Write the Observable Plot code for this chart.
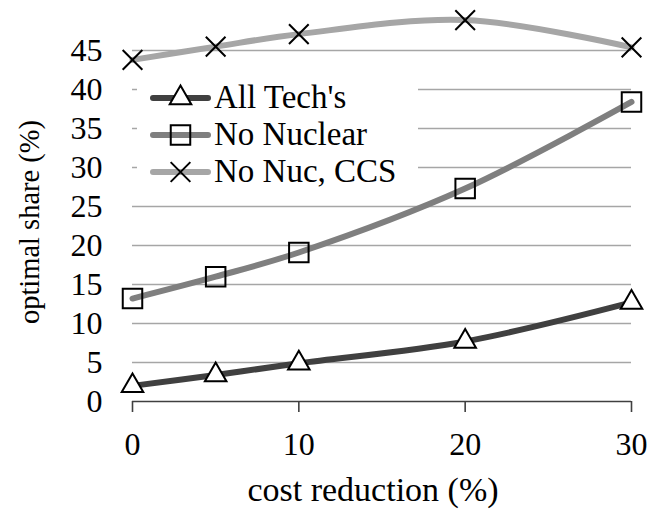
<!DOCTYPE html>
<html>
<head>
<meta charset="utf-8">
<script src="https://cdn.jsdelivr.net/npm/d3@7"></script>
<script src="https://cdn.jsdelivr.net/npm/@observablehq/plot@0.6"></script>
<style>
  html, body { margin: 0; padding: 0; background: #fff; }
  #wrap { position: relative; width: 651px; height: 510px; }
  #wrap svg text { font-family: 'Liberation Serif', 'Times New Roman', serif; }
  #legend { position: absolute; left: 0; top: 0; pointer-events: none; }
</style>
</head>
<body>
<div id="wrap"></div>
<script>
const reduction = [0, 5, 10, 20, 30];
const allTechs = [2.0, 3.4, 4.9, 7.7, 12.7];
const noNuclear = [13.2, 16.0, 19.1, 27.3, 38.4];
const noNucCCS = [43.8, 45.5, 47.1, 48.9, 45.4];
const seriesNames = ["All Tech's", "No Nuclear", "No Nuc, CCS"];
const seriesColors = ["#404040", "#7f7f7f", "#a6a6a6"];
const seriesSymbols = ["triangle", "square", "times"];
const xTicks = [0, 10, 20, 30];
const yTicks = [0, 5, 10, 15, 20, 25, 30, 35, 40, 45];
const xTitle = "cost reduction (%)";
const yTitle = "optimal share (%)";

const seriesValues = [allTechs, noNuclear, noNucCCS];
const rows = [];
seriesNames.forEach((name, i) => {
  reduction.forEach((x, j) => rows.push({series: name, x, y: seriesValues[i][j]}));
});

const font = "'Liberation Serif', 'Times New Roman', serif";

const chart = Plot.plot({
  width: 651,
  height: 510,
  marginLeft: 132,
  marginRight: 20,
  marginTop: 50,
  marginBottom: 109,
  style: {fontFamily: font, fontSize: "32px", color: "#000", background: "#fff", overflow: "visible"},
  x: {domain: [0, 30], ticks: xTicks},
  y: {domain: [0, 45], ticks: yTicks},
  marks: [
    Plot.ruleY(yTicks.filter(d => d > 0), {stroke: "#a6a6a6", strokeWidth: 1.6}),
    Plot.ruleY([0], {stroke: "#404040", strokeWidth: 1.6}),
    Plot.axisX({ticks: xTicks, tickSize: 11, tickPadding: 20, stroke: "#404040", strokeWidth: 1.6, label: null, fill: "#000", fontFamily: font, fontSize: 32}),
    Plot.axisY({ticks: yTicks, tickSize: 0, tickPadding: 30, label: null, fill: "#000", fontFamily: font, fontSize: 32}),
    Plot.text([xTitle], {text: d => d, frameAnchor: "bottom", lineAnchor: "middle", textAnchor: "middle", dy: 89, dx: -9, fontSize: 34, fontFamily: font, fill: "#000"}),
    Plot.text([yTitle], {text: d => d, frameAnchor: "left", lineAnchor: "middle", textAnchor: "middle", rotate: -90, dx: -103, dy: -4, fontSize: 28.5, fontFamily: font, fill: "#000"}),
    ...seriesNames.map((name, i) =>
      Plot.line(rows.filter(r => r.series === name), {x: "x", y: "y", stroke: seriesColors[i], strokeWidth: 6, curve: "catmull-rom", clip: false})
    ),
    Plot.dot(rows.filter(r => r.series === seriesNames[0]), {x: "x", y: "y", symbol: "triangle", r: 8, fill: "#fff", stroke: "#000", strokeWidth: 2}),
    Plot.dot(rows.filter(r => r.series === seriesNames[1]), {x: "x", y: "y", symbol: "square", r: 11, fill: "none", stroke: "#000", strokeWidth: 2}),
    Plot.dot(rows.filter(r => r.series === seriesNames[2]), {x: "x", y: "y", symbol: "times", r: 9, fill: "none", stroke: "#000", strokeWidth: 2})
  ]
});
document.getElementById("wrap").appendChild(chart);

// Legend overlay
const lg = d3.select("#wrap").append("svg").attr("id", "legend")
  .attr("width", 651).attr("height", 510);
lg.append("rect").attr("x", 137).attr("y", 74).attr("width", 281).attr("height", 118).attr("fill", "#fff");
const rowY = [98, 135, 172];
const symMap = {triangle: d3.symbolTriangle, square: d3.symbolSquare, times: d3.symbolTimes};
const symR = {triangle: 8, square: 11, times: 9};
seriesNames.forEach((name, i) => {
  const g = lg.append("g").attr("transform", `translate(0,${rowY[i]})`);
  g.append("line").attr("x1", 153).attr("x2", 208).attr("y1", 0).attr("y2", 0)
    .attr("stroke", seriesColors[i]).attr("stroke-width", 6).attr("stroke-linecap", "round");
  const s = seriesSymbols[i];
  g.append("path").attr("transform", "translate(180.5,0)")
    .attr("d", d3.symbol(symMap[s], Math.PI * symR[s] * symR[s])())
    .attr("fill", s === "triangle" ? "#fff" : "none")
    .attr("stroke", "#000").attr("stroke-width", 2);
  g.append("text").attr("x", 214).attr("y", 10).attr("font-family", font)
    .attr("font-size", 33).attr("fill", "#000").text(name);
});
</script>
</body>
</html>
